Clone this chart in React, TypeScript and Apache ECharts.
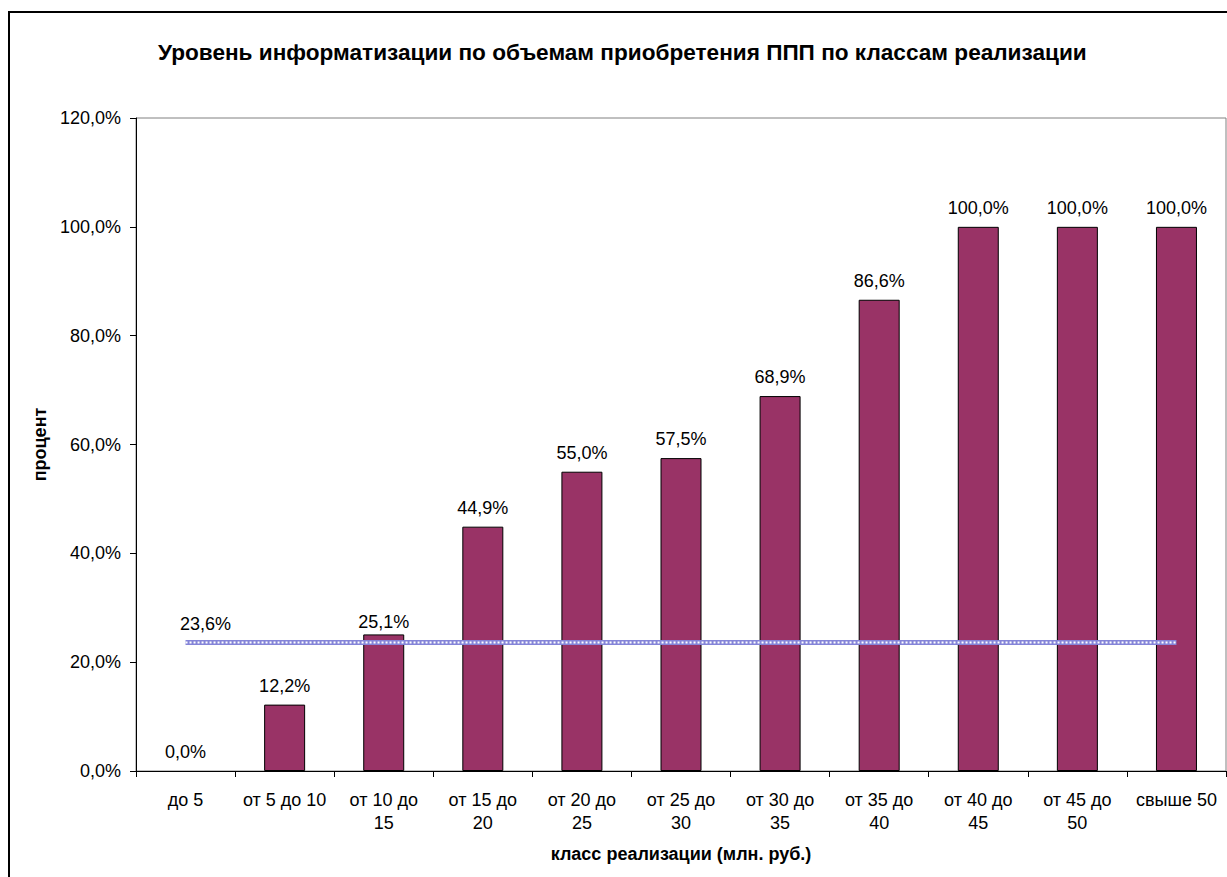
import React, { useEffect, useRef } from "react";
import * as echarts from "echarts";

const titleText = "Уровень информатизации по объемам приобретения ППП по классам реализации";
const xAxisTitle = "класс реализации (млн. руб.)";
const yAxisTitle = "процент";
const categories = [
  "до 5",
  "от 5 до 10",
  "от 10 до 15",
  "от 15 до 20",
  "от 20 до 25",
  "от 25 до 30",
  "от 30 до 35",
  "от 35 до 40",
  "от 40 до 45",
  "от 45 до 50",
  "свыше 50",
];
const barValues = [0.0, 12.2, 25.1, 44.9, 55.0, 57.5, 68.9, 86.6, 100.0, 100.0, 100.0];
const averageValue = 23.6;
const yTicks = { min: 0, max: 120, interval: 20 };

const FONT = "'Liberation Sans', Arial, sans-serif";
const fmt = (v: number) => v.toFixed(1).replace(".", ",") + "%";
const wrapLabel = (s: string) => {
  if (s.length <= 10) return s;
  const i = s.lastIndexOf(" ");
  return s.slice(0, i) + "\n" + s.slice(i + 1);
};

export default function App() {
  const ref = useRef<HTMLDivElement>(null);
  useEffect(() => {
    if (!ref.current) return;
    const chart = echarts.init(ref.current, undefined, { renderer: "svg" });
    const avgData = categories.map(() => averageValue);
    chart.setOption({
      animation: false,
      backgroundColor: "#ffffff",
      textStyle: { fontFamily: FONT },
      title: {
        text: titleText,
        left: 158,
        top: 40,
        padding: 0,
        textStyle: { fontFamily: FONT, fontSize: 22.6, fontWeight: "bold", color: "#000", lineHeight: 24 },
      },
      graphic: [
        {
          type: "rect",
          shape: { x: 9, y: 12, width: 1240, height: 900 },
          style: { fill: "none", stroke: "#000", lineWidth: 2 },
          silent: true,
          z: 100,
        },
      ],
      grid: {
        left: 136,
        top: 118,
        right: 1,
        bottom: 106,
        show: true,
        borderColor: "#808080",
        borderWidth: 1,
        backgroundColor: "transparent",
      },
      xAxis: {
        type: "category",
        data: categories,
        boundaryGap: true,
        name: xAxisTitle,
        nameLocation: "middle",
        nameGap: 74,
        nameTextStyle: { fontFamily: FONT, fontSize: 18, fontWeight: "bold", color: "#000" },
        axisLine: { lineStyle: { color: "#000", width: 1 } },
        axisTick: { show: true, length: 6, lineStyle: { color: "#000" } },
        axisLabel: {
          interval: 0,
          margin: 17,
          fontSize: 18,
          lineHeight: 23,
          color: "#000",
          fontFamily: FONT,
          formatter: (v: string) => wrapLabel(v),
        },
        splitLine: { show: false },
      },
      yAxis: {
        type: "value",
        min: yTicks.min,
        max: yTicks.max,
        interval: yTicks.interval,
        name: yAxisTitle,
        nameLocation: "middle",
        nameGap: 87,
        nameTextStyle: { fontFamily: FONT, fontSize: 18, fontWeight: "bold", color: "#000" },
        axisLine: { show: true, lineStyle: { color: "#000", width: 1 } },
        axisTick: { show: true, length: 6, lineStyle: { color: "#000" } },
        axisLabel: { margin: 15, fontSize: 18, color: "#000", fontFamily: FONT, formatter: (v: number) => fmt(v) },
        splitLine: { show: false },
      },
      series: [
        {
          type: "bar",
          data: barValues.map((v, i) =>
            i === 2
              ? { value: v, label: { distance: 3 } }
              : v === 0
              ? { value: v, itemStyle: { borderWidth: 0 } }
              : v
          ),
          barWidth: 41,
          itemStyle: { color: "#993366", borderColor: "#000", borderWidth: 1 },
          label: {
            show: true,
            position: "top",
            distance: 10,
            fontSize: 18,
            color: "#000",
            fontFamily: FONT,
            formatter: (p: any) => fmt(p.value),
          },
          z: 2,
        },
        {
          type: "line",
          data: avgData,
          symbol: "none",
          lineStyle: { color: "#8484d8", width: 5, type: "solid" },
          label: { show: false },
          z: 3,
        },
        {
          type: "line",
          data: avgData.map((v, i) =>
            i === 0
              ? {
                  value: v,
                  label: {
                    show: true,
                    position: "top",
                    distance: 10,
                    offset: [20, 0],
                    fontSize: 18,
                    color: "#000",
                    fontFamily: FONT,
                    formatter: (p: any) => fmt(p.value),
                  },
                }
              : v
          ),
          symbol: "circle",
          symbolSize: 0,
          showSymbol: true,
          lineStyle: { color: "#ffffff", width: 2, type: [2, 2] },
          z: 4,
        },
      ],
    });
    return () => chart.dispose();
  }, []);
  return (
    <div
      ref={ref}
      style={{ position: "absolute", left: 0, top: 0, width: 1227, height: 877 }}
    />
  );
}
